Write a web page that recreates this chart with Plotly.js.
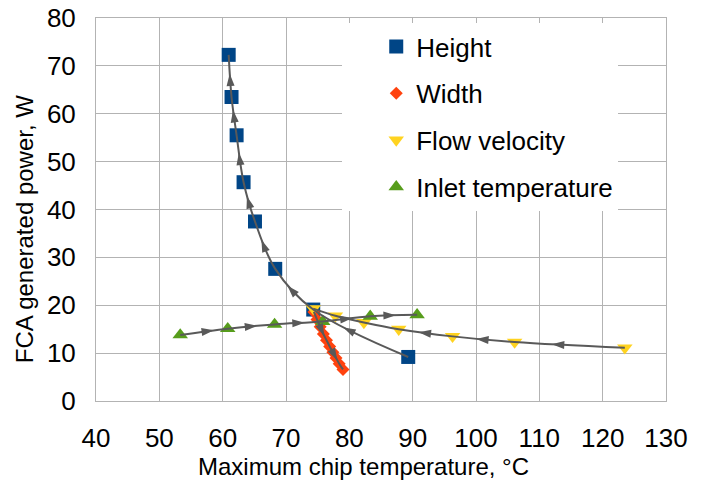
<!DOCTYPE html>
<html>
<head>
<meta charset="utf-8">
<script src="https://cdn.plot.ly/plotly-3.0.1.min.js"></script>
<style>html,body{margin:0;padding:0;background:#fff;}</style>
</head>
<body>
<div id="chart" style="width:701px;height:480px;"></div>
<script>
// Data (series listed in the direction of the arrows)
const heightX = [89.3, 74.3, 68.3, 65.1, 63.3, 62.2, 61.4, 60.95];
const heightY = [9.2, 19.1, 27.6, 37.5, 45.7, 55.5, 63.5, 72.3];
const widthX = [74.4, 74.9, 75.4, 75.9, 76.4, 76.9, 77.4, 77.9, 78.4, 79.0];
const widthY = [18.6, 17.0, 15.5, 14.0, 12.7, 11.4, 10.2, 9.0, 7.8, 6.6];
const flowX = [123.5, 106.1, 96.3, 87.8, 82.3, 77.8, 74.3];
const flowY = [11.1, 12.3, 13.5, 15.0, 16.4, 17.8, 19.3];
const inletX = [53.3, 60.8, 68.2, 75.8, 83.3, 90.7];
const inletY = [13.8, 15.1, 16.0, 16.6, 17.7, 18.0];
const seriesNames = ['Height', 'Width', 'Flow velocity', 'Inlet temperature'];
const xTitle = 'Maximum chip temperature, °C';
const yTitle = 'FCA generated power, W';

const GRID = '#b3b3b3';
const LINE = '#595959';
const FONT = '"Liberation Sans", Arial, sans-serif';

const series = [
  {x: heightX, y: heightY, symbol: 'square', size: 14, color: '#004586'},
  {x: widthX, y: widthY, symbol: 'diamond', size: 10, color: '#ff420e'},
  {x: flowX, y: flowY, symbol: 'triangle-down', size: 13.5, color: '#ffd320'},
  {x: inletX, y: inletY, symbol: 'triangle-up', size: 13.5, color: '#579d1c'}
];

const traces = [];
series.forEach((s, i) => traces.push({
  type: 'scatter', mode: 'markers', name: seriesNames[i], x: s.x, y: s.y,
  legendgroup: 'g' + i, hoverinfo: 'skip',
  marker: {symbol: s.symbol, size: s.size, color: s.color, line: {width: 0}}
}));
series.forEach((s, i) => traces.push({
  type: 'scatter', mode: 'lines', x: s.x, y: s.y, showlegend: false, hoverinfo: 'skip',
  legendgroup: 'g' + i,
  line: {shape: 'spline', color: LINE, width: 2}
}));

const axisBase = {
  showgrid: true, gridcolor: GRID, gridwidth: 1, zeroline: false,
  showline: true, mirror: true, linecolor: GRID, linewidth: 1,
  ticks: '', tickfont: {size: 26, color: '#000'}, ticklabelstandoff: 14
};

const layout = {
  width: 701, height: 480,
  margin: {l: 96, r: 35, t: 18, b: 79},
  paper_bgcolor: '#fff', plot_bgcolor: '#fff',
  font: {family: FONT, color: '#000', size: 26},
  showlegend: true,
  xaxis: Object.assign({}, axisBase, {range: [40, 130], tick0: 40, dtick: 10}),
  yaxis: Object.assign({}, axisBase, {range: [0, 80], tick0: 0, dtick: 10}),
  annotations: [
    {text: xTitle, xref: 'paper', yref: 'paper', x: 0.469, y: -0.170,
     xanchor: 'center', yanchor: 'middle', showarrow: false,
     font: {size: 24, color: '#000'}},
    {text: yTitle, xref: 'paper', yref: 'paper', x: -0.126, y: 0.449,
     xanchor: 'center', yanchor: 'middle', showarrow: false, textangle: -90,
     font: {size: 24, color: '#000'}}
  ],
  legend: {
    x: 0.432, xanchor: 'left', y: 0.987, yanchor: 'top',
    bgcolor: '#fff', borderwidth: 0, font: {size: 26, color: '#000'},
    indentation: 34, tracegroupgap: 10, traceorder: 'grouped'
  }
};

// Plotly-style (Catmull-Rom) tangent, used to find points on the drawn spline
function makeTangent(prev, pt, next, sm) {
  const d1x = prev[0] - pt[0], d1y = prev[1] - pt[1];
  const d2x = next[0] - pt[0], d2y = next[1] - pt[1];
  const d1a = Math.pow(d1x * d1x + d1y * d1y, 0.25);
  const d2a = Math.pow(d2x * d2x + d2y * d2y, 0.25);
  const numx = (d2a * d2a * d1x - d1a * d1a * d2x) * sm;
  const numy = (d2a * d2a * d1y - d1a * d1a * d2y) * sm;
  const den1 = 3 * d2a * (d1a + d2a);
  const den2 = 3 * d1a * (d1a + d2a);
  return [
    [pt[0] + (den1 && numx / den1), pt[1] + (den1 && numy / den1)],
    [pt[0] - (den2 && numx / den2), pt[1] - (den2 && numy / den2)]
  ];
}

function arrowTrace(xs, ys, xa, ya) {
  const pts = xs.map((x, i) => [xa.c2p(x), ya.c2p(ys[i])]);
  const n = pts.length;
  const T = [];
  for (let i = 1; i < n - 1; i++) T.push(makeTangent(pts[i - 1], pts[i], pts[i + 1], 1));
  const segs = [];
  for (let i = 0; i < n - 1; i++) {
    const a = pts[i], b = pts[i + 1];
    let m, d;
    if (n < 3) {
      m = [(a[0] + b[0]) / 2, (a[1] + b[1]) / 2]; d = [b[0] - a[0], b[1] - a[1]];
    } else if (i === 0 || i === n - 2) {
      const c = (i === 0) ? T[0][0] : T[n - 3][1];
      m = [0.25 * a[0] + 0.5 * c[0] + 0.25 * b[0], 0.25 * a[1] + 0.5 * c[1] + 0.25 * b[1]];
      d = [b[0] - a[0], b[1] - a[1]];
    } else {
      const c1 = T[i - 1][1], c2 = T[i][0];
      m = [(a[0] + 3 * c1[0] + 3 * c2[0] + b[0]) / 8, (a[1] + 3 * c1[1] + 3 * c2[1] + b[1]) / 8];
      d = [b[0] + c2[0] - c1[0] - a[0], b[1] + c2[1] - c1[1] - a[1]];
    }
    const len = Math.hypot(b[0] - a[0], b[1] - a[1]);
    segs.push({m, d, len});
  }
  let chosen = segs.filter(s => s.len >= 36);
  if (!chosen.length) {
    const total = segs.reduce((t, s) => t + s.len, 0);
    const picks = [0.3, 0.75];
    let acc = 0;
    segs.forEach(s => {
      const start = acc; acc += s.len;
      picks.forEach(p => { if (p * total >= start && p * total < acc) chosen.push(s); });
    });
  }
  const ax = [], ay = [], ang = [];
  chosen.forEach(s => {
    const dl = Math.hypot(s.d[0], s.d[1]) || 1;
    const ux = s.d[0] / dl, uy = s.d[1] / dl;
    const px = s.m[0] + ux * 6, py = s.m[1] + uy * 6;
    ax.push(xa.p2c(px)); ay.push(ya.p2c(py));
    ang.push(Math.atan2(ux, -uy) * 180 / Math.PI);
  });
  return {
    type: 'scatter', mode: 'markers', x: ax, y: ay, showlegend: false, hoverinfo: 'skip',
    marker: {symbol: 'arrow', size: 13, color: LINE, angle: ang, angleref: 'up', line: {width: 0}}
  };
}

const gd = document.getElementById('chart');
Plotly.newPlot(gd, traces, layout, {displayModeBar: false, staticPlot: true}).then(() => {
  const xa = gd._fullLayout.xaxis, ya = gd._fullLayout.yaxis;
  const arrows = series.map(s => arrowTrace(s.x, s.y, xa, ya));
  return Plotly.addTraces(gd, arrows);
});
</script>
</body>
</html>
